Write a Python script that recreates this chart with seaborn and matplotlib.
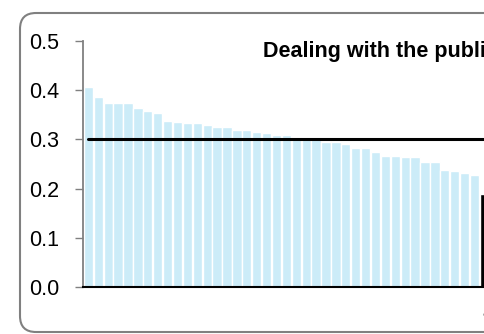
import numpy as np
import pandas as pd
import matplotlib
matplotlib.use("Agg")
import matplotlib.pyplot as plt
import seaborn as sns
from matplotlib.patches import FancyBboxPatch
from matplotlib.transforms import IdentityTransform, ScaledTranslation

# -------------------- data --------------------
shares = [0.407, 0.387, 0.375, 0.375, 0.373, 0.364, 0.358, 0.354, 0.338, 0.336,
          0.334, 0.333, 0.329, 0.325, 0.325, 0.319, 0.319, 0.315, 0.313, 0.309,
          0.309, 0.304, 0.300, 0.300, 0.295, 0.295, 0.291, 0.283, 0.283, 0.274,
          0.266, 0.266, 0.264, 0.264, 0.254, 0.254, 0.238, 0.236, 0.232, 0.228]
highlight_value = 0.189
highlight_label = "a"
reference_level = 0.3
title = "Dealing with the public"
y_ticks = [0.0, 0.1, 0.2, 0.3, 0.4, 0.5]

cats = [f"c{i}" for i in range(len(shares))] + [highlight_label]
vals = shares + [highlight_value]
df = pd.DataFrame({"cat": cats, "val": vals})
colors = ["#CCECF8"] * len(shares) + ["black"]

# -------------------- figure --------------------
sns.set_style("white")
plt.rcParams["font.family"] = ["Liberation Sans", "DejaVu Sans"]
plt.rcParams["text.color"] = "black"
plt.rcParams["ytick.color"] = "black"
plt.rcParams["xtick.color"] = "black"

W, H = 484, 334
fig = plt.figure(figsize=(W / 100, H / 100), dpi=100)

# rounded frame, cut off on the right like the original
frame = FancyBboxPatch((20, 2), 900, 319, boxstyle="round,pad=0,rounding_size=16",
                       transform=IdentityTransform(), facecolor="none",
                       edgecolor="#808080", linewidth=1.5, zorder=-1)
fig.patches.append(frame)

ax_left, ax_right = 83 / W, 677 / W
ax_bottom, ax_top = 47 / H, 293 / H
ax = fig.add_axes([ax_left, ax_bottom, ax_right - ax_left, ax_top - ax_bottom])
ax.patch.set_alpha(0)

sns.barplot(data=df, x="cat", y="val", hue="cat", palette=colors, legend=False,
            width=0.94, saturation=1, ax=ax)
# reference level across all categories
ax.plot(range(len(cats)), [reference_level] * len(cats), color="black", lw=2.2, zorder=3)

pitch = 9.9
n_slots = (677 - 83) / pitch
ax.set_xlim(-0.55, -0.55 + n_slots)
ax.set_ylim(0, 0.5)
ax.set_yticks(y_ticks)
ax.set_yticklabels([f"{t:.1f}" for t in y_ticks], fontsize=15.5)
ax.set_xlabel("")
ax.set_ylabel("")

ax.set_xticks([len(cats) - 1])
ax.set_xticklabels([highlight_label], fontsize=11)
ax.tick_params(axis="x", length=0, pad=14)
for lab in ax.get_xticklabels():
    lab.set_horizontalalignment("left")
    lab.set_transform(lab.get_transform() + ScaledTranslation(-2.5 / 100, 0, fig.dpi_scale_trans))

ax.tick_params(axis="y", length=6, width=1, color="#808080", pad=11, left=True)
ax.yaxis.get_major_ticks()[0].tick1line.set_color("black")
sns.despine(ax=ax, top=True, right=True)
ax.spines["left"].set_color("#808080")
ax.spines["left"].set_linewidth(1.3)
ax.spines["bottom"].set_color("black")
ax.spines["bottom"].set_linewidth(1.5)

fig.text(263 / W, (H - 57) / H, title, ha="left", va="baseline",
         fontsize=15.5, fontweight="bold")

fig.savefig("out.png", dpi=100)
